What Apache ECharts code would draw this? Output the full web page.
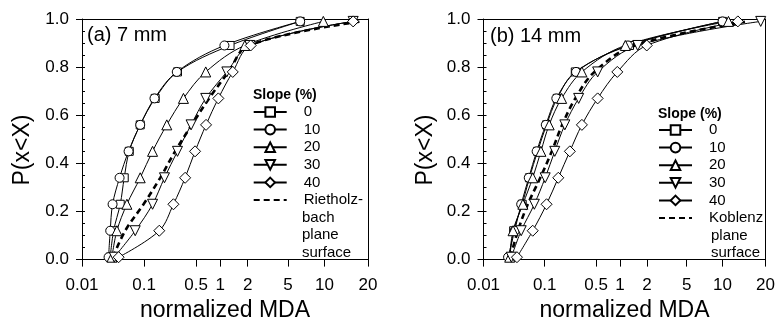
<!DOCTYPE html>
<html><head><meta charset="utf-8">
<script src="https://cdn.jsdelivr.net/npm/echarts@6/dist/echarts.min.js"></script>
<style>html,body{margin:0;padding:0;background:#fff}#c{width:778px;height:327px}</style>
</head><body><div id="c"></div>
<script>
// ---- data ----
const pLevels = [0.01, 0.12, 0.23, 0.34, 0.45, 0.56, 0.67, 0.78, 0.89, 0.99];
const xTicks = [0.01, 0.1, 0.5, 1, 2, 5, 10, 20];
const yTicks = [0, 0.2, 0.4, 0.6, 0.8, 1.0];
const slopeNames = ['0', '10', '20', '30', '40'];
const panelTitles = ['(a) 7 mm', '(b) 14 mm'];
const refNames = ['Rietholz-bach plane surface', 'Koblenz plane surface'];

// panel (a) 7 mm : normalized MDA at each P level
const a_s0  = [0.0285, 0.0323, 0.0413, 0.0479, 0.0577, 0.0867, 0.141, 0.281, 1.28, 6.3];
const a_s10 = [0.0268, 0.0285, 0.0311, 0.0403, 0.0563, 0.0867, 0.138, 0.275, 1.11, 6.3];
const a_s20 = [0.0304, 0.0365, 0.0529, 0.0867, 0.130, 0.202, 0.338, 0.659, 1.86, 9.8];
const a_s30 = [0.0331, 0.0720, 0.130, 0.188, 0.281, 0.428, 0.659, 1.18, 2.10, 15.8];
const a_s40 = [0.0389, 0.160, 0.248, 0.356, 0.484, 0.665, 0.946, 1.37, 2.14, 15.8];
const a_ref = [0.0315, 0.0497, 0.098, 0.165, 0.261, 0.437, 0.725, 1.23, 2.03, 18];

// panel (b) 14 mm
const b_s0  = [0.0268, 0.0311, 0.0429, 0.0563, 0.0766, 0.106, 0.148, 0.261, 1.28, 10];
const b_s10 = [0.0252, 0.0323, 0.0413, 0.0549, 0.0738, 0.1035, 0.144, 0.267, 1.23, 10];
const b_s20 = [0.0268, 0.0304, 0.0440, 0.0637, 0.0867, 0.115, 0.170, 0.321, 1.15, 11];
const b_s30 = [0.0285, 0.0413, 0.0677, 0.1015, 0.137, 0.188, 0.290, 0.524, 1.58, 18.5];
const b_s40 = [0.0352, 0.0637, 0.106, 0.153, 0.220, 0.321, 0.524, 0.928, 1.99, 12.8];
const b_ref = [0.0275, 0.0365, 0.0529, 0.0846, 0.125, 0.173, 0.261, 0.475, 1.45, 15];

// ---- x scale of the original figure (non-uniform log warp, fraction of axis at each tick) ----
const AXIS_FRAC = [0, 0.217, 0.399, 0.4835, 0.5795, 0.7205, 0.8475, 1];
const LT = xTicks.map(Math.log10);
function warp(v) {
  const t = Math.log10(v);
  for (let i = 0; i < LT.length - 1; i++) {
    if (t <= LT[i + 1] || i === LT.length - 2) {
      return AXIS_FRAC[i] + (t - LT[i]) / (LT[i + 1] - LT[i]) * (AXIS_FRAC[i + 1] - AXIS_FRAC[i]);
    }
  }
}
const tickPos = xTicks.map(warp);
function xLabel(v) {
  for (let i = 0; i < tickPos.length; i++) if (Math.abs(tickPos[i] - v) < 1e-6) return String(xTicks[i]);
  return '';
}

const FONT = 'Liberation Sans, Arial, sans-serif';
const grids = [
  { left: 82, top: 19, width: 286, height: 249 },
  { left: 483.5, top: 19, width: 286.5, height: 249 }
];
const xAxes = [], yAxes = [];
grids.forEach((g, gi) => {
  xAxes.push({
    gridIndex: gi, type: 'value', min: 0, max: 1, position: 'bottom',
    axisLine: { show: true, onZero: false, lineStyle: { color: '#000', width: 1 } },
    axisTick: { show: true, length: 7, customValues: tickPos, lineStyle: { color: '#000' } },
    axisLabel: { show: true, customValues: tickPos, formatter: xLabel, margin: 17.5, color: '#000', fontSize: 17, fontFamily: FONT },
    splitLine: { show: false },
    name: 'normalized MDA', nameLocation: 'middle', nameGap: 38.5,
    nameTextStyle: { fontSize: 23, color: '#000', fontFamily: FONT, verticalAlign: 'top' }
  });
  xAxes.push({
    gridIndex: gi, type: 'value', min: 0, max: 1, position: 'top',
    axisLine: { show: true, onZero: false, lineStyle: { color: '#000', width: 1 } },
    axisTick: { show: false }, axisLabel: { show: false }, splitLine: { show: false }
  });
  yAxes.push({
    gridIndex: gi, type: 'value', min: 0, max: 1, interval: 0.2, position: 'left',
    axisLine: { show: true, onZero: false, lineStyle: { color: '#000', width: 1 } },
    axisTick: { show: true, length: 6, lineStyle: { color: '#000' } },
    axisLabel: { formatter: v => v.toFixed(1), margin: 13, color: '#000', fontSize: 17, fontFamily: FONT },
    splitLine: { show: false }
  });
  yAxes.push({
    gridIndex: gi, type: 'value', min: 0, max: 1, interval: 0.05, position: 'left',
    axisLine: { show: false },
    axisTick: { show: true, inside: true, length: 3, lineStyle: { color: '#000' } },
    axisLabel: { show: false }, splitLine: { show: false }
  });
  yAxes.push({
    gridIndex: gi, type: 'value', min: 0, max: 1, position: 'right',
    axisLine: { show: true, onZero: false, lineStyle: { color: '#000', width: 1 } },
    axisTick: { show: false }, axisLabel: { show: false }, splitLine: { show: false }
  });
});

const symbols = [
  { symbol: 'rect', size: 8, rot: 0 },
  { symbol: 'circle', size: 9, rot: 0 },
  { symbol: 'triangle', size: 10, rot: 0 },
  { symbol: 'triangle', size: 10, rot: 180 },
  { symbol: 'diamond', size: 11, rot: 0 }
];

function mkSeries(name, xs, gi, k) {
  const s = {
    type: 'line', name: name,
    xAxisIndex: gi * 2, yAxisIndex: gi * 3,
    data: xs.map((x, i) => [warp(x), pLevels[i]]),
    smooth: 0.35, clip: true,
    lineStyle: { color: '#000', width: 1 },
    itemStyle: { color: '#fff', borderColor: '#000', borderWidth: 1 },
    emphasis: { disabled: true }
  };
  if (k === null) {
    s.symbol = 'circle'; s.symbolSize = 0; s.showSymbol = false;
    s.lineStyle = { color: '#000', width: 2.6, type: [6, 4] };
    s.itemStyle = { color: 'rgba(0,0,0,0)', borderColor: 'rgba(0,0,0,0)' };
    s.z = 1;
  } else {
    s.symbol = symbols[k].symbol; s.symbolSize = symbols[k].size; s.symbolRotate = symbols[k].rot;
    s.showAllSymbol = true; s.z = 2;
  }
  return s;
}

const aSets = [a_s0, a_s10, a_s20, a_s30, a_s40];
const bSets = [b_s0, b_s10, b_s20, b_s30, b_s40];
const series = [];
aSets.forEach((d, k) => series.push(mkSeries(slopeNames[k], d, 0, k)));
series.push(mkSeries(refNames[0], a_ref, 0, null));
bSets.forEach((d, k) => series.push(mkSeries(slopeNames[k], d, 1, k)));
series.push(mkSeries(refNames[1], b_ref, 1, null));

const ROW = 17.6;
function legendFor(gi, left, firstRowY) {
  return {
    orient: 'vertical', left: left, top: firstRowY - ROW / 2, itemWidth: 33, itemHeight: 12, itemGap: 0,
    selectedMode: false, padding: 0,
    data: slopeNames.map(n => ({ name: n })).concat([{ name: refNames[gi], itemStyle: { opacity: 0 } }]),
    formatter: n => n === refNames[gi] ? n.split(' ')[0].replace('bach', '') : n,
    textStyle: { fontSize: 15, color: '#000', fontFamily: FONT, lineHeight: ROW, padding: [0, 0, 0, 12] }
  };
}

const txt = (x, y, s, extra) => Object.assign({
  type: 'text', x: x, y: y,
  style: Object.assign({ text: s, fill: '#000', font: '15px ' + FONT, textVerticalAlign: 'middle', textAlign: 'left' }, extra || {})
});

const aRow0 = 112, bRow0 = 130;
const graphics = [
  txt(87, 35, panelTitles[0], { font: '20px ' + FONT }),
  txt(490, 36, panelTitles[1], { font: '20px ' + FONT }),
  txt(253, 95, 'Slope (%)', { font: 'bold 14px ' + FONT }),
  txt(658, 114, 'Slope (%)', { font: 'bold 14px ' + FONT }),
  txt(302, aRow0 + 6 * ROW, 'bach'), txt(302, aRow0 + 7 * ROW, 'plane'), txt(302, aRow0 + 8 * ROW, 'surface'),
  txt(711, bRow0 + 6 * ROW, 'plane'), txt(711, bRow0 + 7 * ROW, 'surface'),
  { type: 'text', x: 22.5, y: 150, rotation: Math.PI / 2,
    style: { text: 'P(x<X)', fill: '#000', font: '23px ' + FONT, textAlign: 'center', textVerticalAlign: 'middle' } },
  { type: 'text', x: 426, y: 150, rotation: Math.PI / 2,
    style: { text: 'P(x<X)', fill: '#000', font: '23px ' + FONT, textAlign: 'center', textVerticalAlign: 'middle' } }
];

const chart = echarts.init(document.getElementById('c'), null, { renderer: 'canvas' });
chart.setOption({
  animation: false,
  backgroundColor: '#fff',
  grid: grids,
  xAxis: xAxes,
  yAxis: yAxes,
  legend: [legendFor(0, 252.7, aRow0), legendFor(1, 658, bRow0)],
  graphic: graphics,
  series: series
});
</script></body></html>
